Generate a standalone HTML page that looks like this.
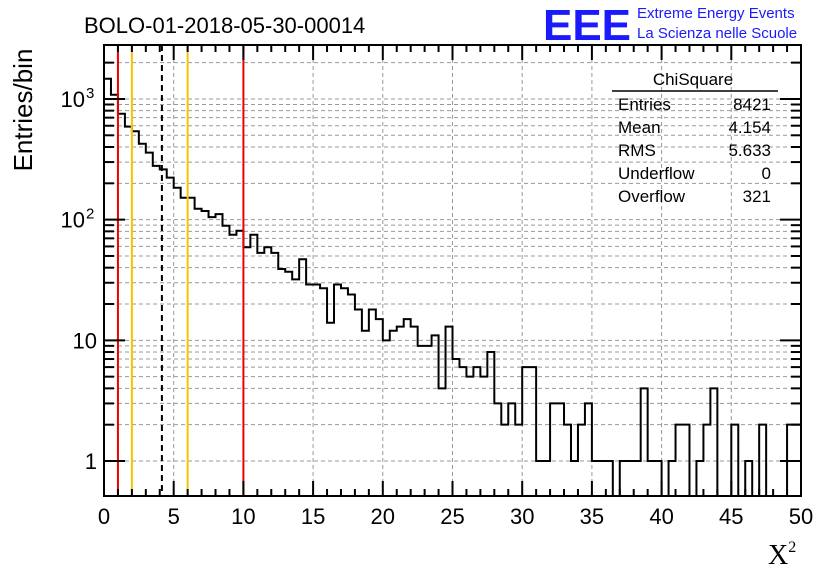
<!DOCTYPE html>
<html><head><meta charset="utf-8"><style>
body{margin:0;background:#fff;}
svg{display:block;font-family:"Liberation Sans",sans-serif;}
</style></head><body>
<svg id="chart" width="836" height="572" viewBox="0 0 836 572" xmlns="http://www.w3.org/2000/svg">
<text x="84" y="33" font-size="22">BOLO-01-2018-05-30-00014</text>
<g>
<text x="543" y="40" font-size="44" font-weight="bold" fill="#1a1aff" textLength="88" lengthAdjust="spacingAndGlyphs">EEE</text>
<text x="637" y="18" font-size="15" fill="#1a1aff">Extreme Energy Events</text>
<text x="637" y="38" font-size="15" fill="#1a1aff">La Scienza nelle Scuole</text>
</g>
<g id="grid"></g>
<g id="marks"></g>
<path id="hist" fill="none" stroke="#000" stroke-width="2"/>
<g id="vlines"></g>
<rect x="104" y="45" width="697" height="451" fill="none" stroke="#000" stroke-width="2"/>
<g id="ticks"></g>
<g font-size="17">
<text x="693" y="85" text-anchor="middle">ChiSquare</text>
<line x1="612" y1="91" x2="778" y2="91" stroke="#000" stroke-width="1.5"/>
<text x="618" y="110">Entries</text><text x="771" y="110" text-anchor="end">8421</text>
<text x="618" y="133">Mean</text><text x="771" y="133" text-anchor="end">4.154</text>
<text x="618" y="156">RMS</text><text x="771" y="156" text-anchor="end">5.633</text>
<text x="618" y="179">Underflow</text><text x="771" y="179" text-anchor="end">0</text>
<text x="618" y="202">Overflow</text><text x="771" y="202" text-anchor="end">321</text>
</g>
<text transform="translate(32,110) rotate(-90)" text-anchor="middle" font-size="26">Entries/bin</text>
<text x="768" y="564" font-size="28" font-family="Liberation Serif,serif">X<tspan style="font-size:16px" dy="-12">2</tspan></text>
</svg>
<script>
const counts = [1470,1085,755,590,540,426,359,279,261,223,184,152,152,123,118,105,111,89,75,81,59,75,53,59,53,39,37,32,47,29,29,27,14,29,27,24,18,12,18,15,10,12,13,15,13,9,9,11,4,13,7,6,5,6,5,8,3,2,3,2,6,6,1,1,3,3,2,1,2,3,1,1,1,0,1,1,1,4,1,1,0,1,2,2,0,1,2,4,0,0,2,0,1,0,2,0,0,0,2,2];
const binWidth = [0.5];
const xTicks = [0,5,10,15,20,25,30,35,40,45,50];
const yTickLabels = ["1","10","10²","10³"];
const yTickValues = [1,10,100,1000];
const redLines = [1,10];
const yellowLines = [2,6];
const meanLine = [4.154];

const NS="http://www.w3.org/2000/svg";
const X0=104,X1=801,YT=45,YB=496;
const yMin=0.513,yMax=2800;
function xs(v){return X0+(v/50)*(X1-X0);}
function ys(v){if(v<=0)return YB;return YB-(Math.log10(v)-Math.log10(yMin))/(Math.log10(yMax)-Math.log10(yMin))*(YB-YT);}
function mk(tag,attrs,parent){const e=document.createElementNS(NS,tag);for(const k in attrs)e.setAttribute(k,attrs[k]);parent.appendChild(e);return e;}

const grid=document.getElementById('grid');
xTicks.forEach(t=>{if(t>0&&t<50){const l=mk('line',{x1:xs(t),x2:xs(t),y1:YT,y2:YB,stroke:'#999','stroke-dasharray':'4,3'},grid);

}});
[1,10,100,1000].forEach(d=>{for(let m=1;m<10;m++){const v=d*m;if(v<yMin||v>yMax)continue;const y=ys(v);
const l=mk('line',{x1:X0,x2:X1,y1:y,y2:y,stroke:'#999','stroke-dasharray':'4,3'},grid);

}});

let d='';
const bw=binWidth[0];
counts.forEach((c,i)=>{const xa=xs(i*bw),xb=xs((i+1)*bw),y=ys(c);
d+=(i===0?'M'+xa+','+YB+' L'+xa+','+y:' L'+xa+','+y)+' L'+xb+','+y;});
d+=' L'+xs(50)+','+YB;
document.getElementById('hist').setAttribute('d',d);

const vl=document.getElementById('vlines');
redLines.forEach(v=>{const l=mk('line',{x1:xs(v),x2:xs(v),y1:YT,y2:YB,stroke:'#e00','stroke-width':2},vl);

});
yellowLines.forEach(v=>{const l=mk('line',{x1:xs(v),x2:xs(v),y1:YT,y2:YB,stroke:'#f5c400','stroke-width':2},vl);

});
meanLine.forEach(v=>{const l=mk('line',{x1:xs(v),x2:xs(v),y1:YT,y2:YB,stroke:'#000','stroke-width':2,'stroke-dasharray':'6,4'},vl);

});

const tk=document.getElementById('ticks');
for(let t=0;t<=50;t++){const major=t%5===0;const len=major?15:7;const x=xs(t);
mk('line',{x1:x,x2:x,y1:YB,y2:YB-len,stroke:'#000','stroke-width':2},tk);
mk('line',{x1:x,x2:x,y1:YT,y2:YT+len,stroke:'#000','stroke-width':2},tk);}
xTicks.forEach(t=>{const e=mk('text',{x:xs(t),y:524,'text-anchor':'middle','font-size':22},tk);e.textContent=String(t);

});
[1,10,100,1000].forEach(dd=>{for(let m=1;m<10;m++){const v=dd*m;if(v<yMin||v>yMax)continue;const y=ys(v);const len=m===1?21:10;
mk('line',{x1:X0,x2:X0+len,y1:y,y2:y,stroke:'#000','stroke-width':2},tk);
mk('line',{x1:X1,x2:X1-len,y1:y,y2:y,stroke:'#000','stroke-width':2},tk);}});
yTickValues.forEach((v,i)=>{const lab=yTickLabels[i];
const e=mk('text',{x:lab.length>2?85:97,y:ys(v)+8,'text-anchor':'end','font-size':22},tk);
e.textContent=lab.length>2?'10':lab;


if(lab.length>2){const s=mk('text',{x:86,y:ys(v)-1,'font-size':15},tk);s.textContent=lab.slice(2)==='²'?'2':'3';

}});
</script>
</body></html>
